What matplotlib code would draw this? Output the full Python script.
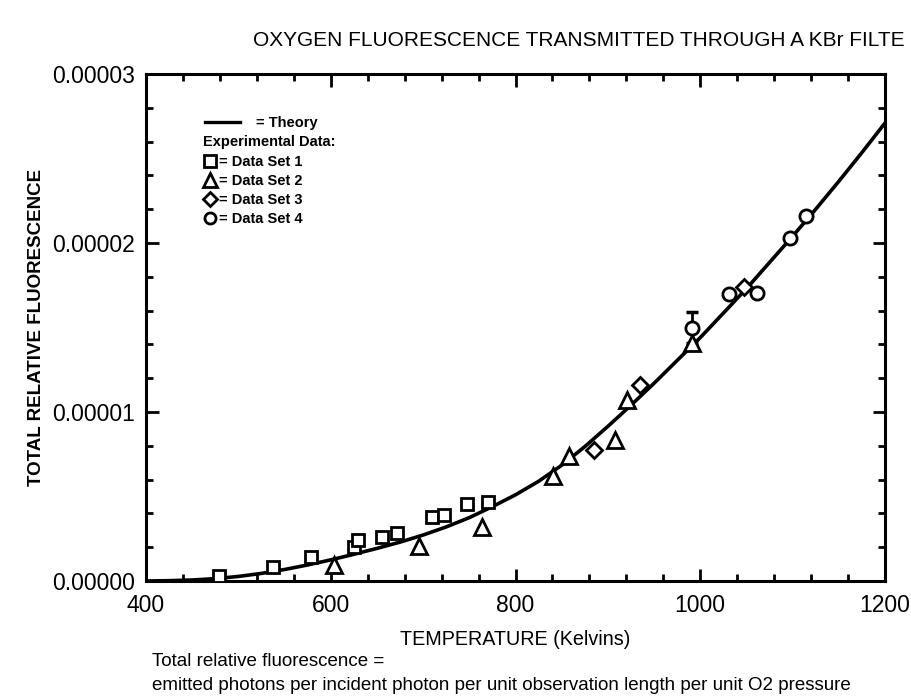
import matplotlib
matplotlib.use("Agg")
import matplotlib.pyplot as plt
from matplotlib.ticker import MultipleLocator, FuncFormatter
from matplotlib.lines import Line2D

plt.rcParams['font.family'] = ['Liberation Sans', 'DejaVu Sans']

# ---- data ----
theory_T = [400, 425, 450, 475, 500, 525, 550, 575, 600, 625, 650, 675, 700,
            725, 750, 775, 800, 825, 850, 875, 900, 925, 950, 975, 1000,
            1025, 1050, 1075, 1100, 1125, 1150, 1175, 1200]
theory_F = [0.0, 0.02e-6, 0.06e-6, 0.14e-6, 0.27e-6, 0.45e-6, 0.68e-6,
            0.95e-6, 1.25e-6, 1.58e-6, 1.93e-6, 2.3e-6, 2.72e-6, 3.2e-6,
            3.75e-6, 4.4e-6, 5.1e-6, 5.9e-6, 6.85e-6, 7.95e-6, 9.15e-6,
            10.4e-6, 11.7e-6, 13.05e-6, 14.4e-6, 15.85e-6, 17.3e-6, 18.85e-6,
            20.4e-6, 22.0e-6, 23.65e-6, 25.35e-6, 27.1e-6]

set1_T = [479, 537, 579, 625, 629, 656, 672, 710, 723, 747, 770]
set1_F = [0.3e-6, 0.8e-6, 1.4e-6, 2.0e-6, 2.4e-6, 2.6e-6, 2.85e-6, 3.8e-6,
          3.9e-6, 4.55e-6, 4.7e-6]

set2_T = [603, 695, 764, 841, 858, 908, 921, 991]
set2_F = [0.95e-6, 2.1e-6, 3.2e-6, 6.2e-6, 7.4e-6, 8.35e-6, 10.7e-6, 14.1e-6]

set3_T = [885, 935, 1047]
set3_F = [7.75e-6, 11.6e-6, 17.4e-6]

set4_T = [991, 1031, 1061, 1097, 1114]
set4_F = [14.95e-6, 17.0e-6, 17.05e-6, 20.3e-6, 21.6e-6]

errbar_T = [991]
errbar_F = [14.95e-6]
errbar_low = [0.85e-6]
errbar_high = [0.95e-6]

x_ticks = [400, 600, 800, 1000, 1200]
y_ticks = [0.0, 1e-5, 2e-5, 3e-5]

# ---- figure ----
fig = plt.figure(figsize=(9.11, 6.96), dpi=100)
ax = fig.add_axes([146/911, 1 - 581/696, (885 - 146)/911, (581 - 74)/696])

ax.plot(theory_T, theory_F, color='black', lw=2.6, solid_joinstyle='round',
        solid_capstyle='round', zorder=2)
mk = dict(linestyle='none', mfc='white', mec='black', mew=2.0, zorder=3)
ax.plot(set1_T, set1_F, marker='s', ms=8.5, **mk)
ax.plot(set2_T, set2_F, marker='^', ms=11.5, **mk)
ax.plot(set3_T, set3_F, marker='D', ms=8, **mk)
ax.errorbar(errbar_T, errbar_F, yerr=[errbar_low, errbar_high], fmt='none',
            ecolor='black', elinewidth=2, capsize=4, capthick=2.5, zorder=2)
ax.plot(set4_T, set4_F, marker='o', ms=9.5, **mk)

ax.set_xlim(400, 1200)
ax.set_ylim(0, 3e-5)
ax.set_xticks(x_ticks)
ax.set_yticks(y_ticks)
ax.xaxis.set_minor_locator(MultipleLocator(40))
ax.yaxis.set_minor_locator(MultipleLocator(2e-6))
ax.yaxis.set_major_formatter(FuncFormatter(lambda v, p: f"{v:.5f}"))
ax.tick_params(which='both', direction='in', top=True, right=True,
               width=2, labelsize=16.5)
ax.tick_params(axis='y', pad=8)
ax.tick_params(axis='x', pad=9)
ax.tick_params(which='major', length=9)
ax.tick_params(which='minor', length=5)
for s in ax.spines.values():
    s.set_linewidth(2.2)

ax.set_xlabel("TEMPERATURE (Kelvins)", fontsize=14.2, labelpad=10)
ax.set_ylabel("TOTAL RELATIVE FLUORESCENCE", fontsize=13.5,
              fontweight='bold', labelpad=5)

# ---- legend block drawn as text ----
tr = ax.transAxes
def axpos(px, py):
    return ((px - 146) / (885 - 146), (581 - py) / (581 - 74))

lkw = dict(fontsize=10.5, fontweight='bold', va='center', transform=tr)
x0, y0 = axpos(205, 122)
x1, _ = axpos(240, 122)
ax.add_line(Line2D([x0, x1], [y0, y0], transform=tr, color='black', lw=2.4))
ax.text(*axpos(256, 123), "= Theory", **lkw)
ax.text(*axpos(203, 142), "Experimental Data:", **lkw)
rows = [('s', 8, "= Data Set 1", 161), ('^', 10, "= Data Set 2", 180),
        ('D', 7, "= Data Set 3", 199), ('o', 8, "= Data Set 4", 218)]
for m, ms, label, py in rows:
    mx, my = axpos(210, py)
    ax.plot([mx], [my], marker=m, ms=ms, mfc='white', mec='black', mew=2,
            transform=tr, linestyle='none', clip_on=False)
    ax.text(*axpos(219, py + 1), label, **lkw)

# ---- title (cut at the right edge in the source) and footnote ----
fig.text(253/911, 1 - 40/696,
         "OXYGEN FLUORESCENCE TRANSMITTED THROUGH A KBr FILTE",
         fontsize=15.0, ha='left', va='center')
fig.text(152/911, 1 - 662/696, "Total relative fluorescence =",
         fontsize=13.5, ha='left', va='center')
fig.text(152/911, 1 - 686/696,
         "emitted photons per incident photon per unit observation length per unit O2 pressure",
         fontsize=13.5, ha='left', va='center')

fig.savefig("out.png", dpi=100)
